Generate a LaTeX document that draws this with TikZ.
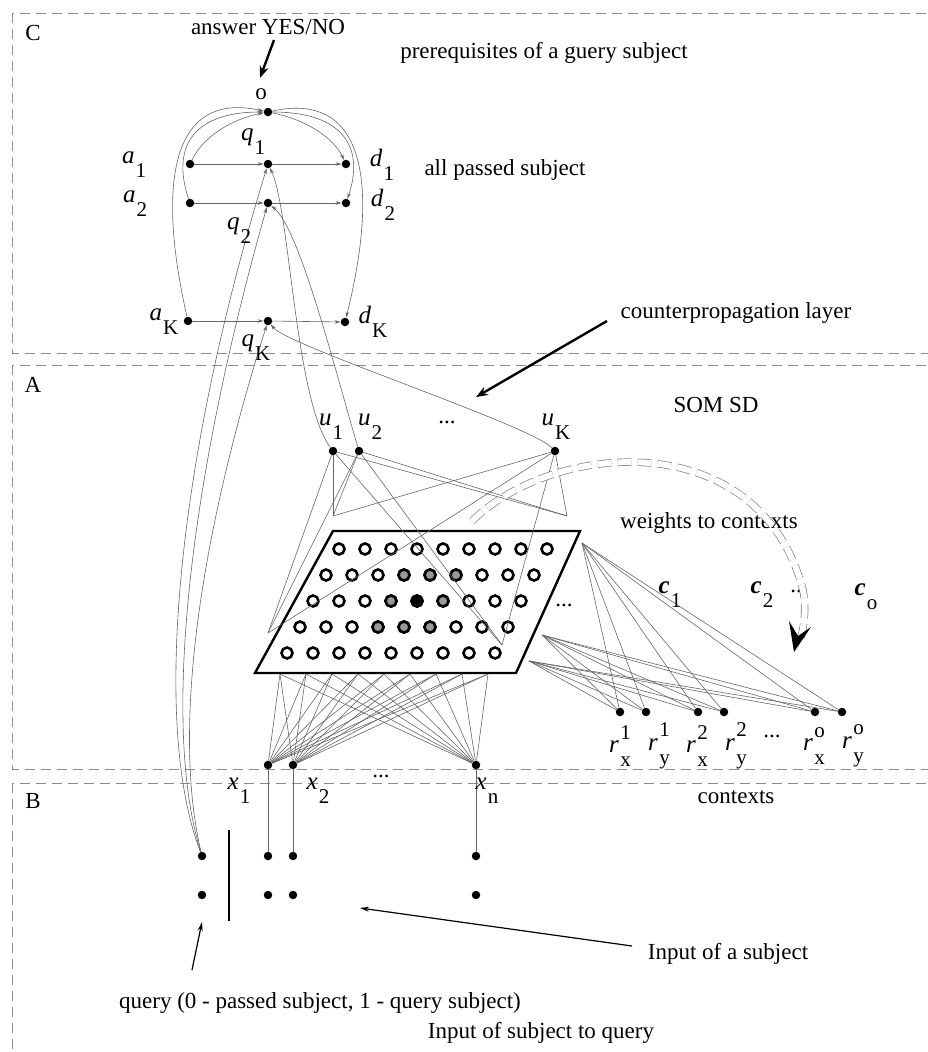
\documentclass[tikz,border=0pt]{standalone}
\usepackage{fontspec}
\setmainfont{Liberation Serif}
\usetikzlibrary{arrows.meta}

% italic symbol with an upright index set low beside it
\newcommand{\sym}[1]{{\fontsize{25}{28}\selectfont\textit{#1}}}
\newcommand{\idx}[1]{{\fontsize{21}{24}\selectfont #1}}
\newcommand{\sbl}[2]{\sym{#1}\kern1pt\raisebox{-0.6em}{\idx{#2}}}
% context symbol r with upper and lower index stacked
\newcommand{\rlb}[2]{\sym{r}\kern1.5pt\rlap{\raisebox{0.6em}{\idx{#1}}}\raisebox{-0.6em}{\idx{#2}}}

\begin{document}
\begin{tikzpicture}[x=1pt,y=-1pt,
  font=\fontsize{23}{27}\selectfont,
  dot/.style={circle,fill=black,inner sep=0pt,minimum size=8.5pt},
  neuron/.style={circle,draw=black,line width=2.6pt,inner sep=0pt,minimum size=11pt},
  hot/.style={neuron,fill=black!40},
  winner/.style={neuron,fill=black},
  link/.style={draw=black!60,line width=0.6pt},
  arr/.style={link,-{Stealth[length=6pt,width=3.6pt]}},
  region/.style={draw=black!45,line width=0.8pt,dash pattern=on 10pt off 6pt},
  pointer/.style={draw=black,line width=2.4pt,-{Stealth[length=12pt,width=9pt]}},
  thinpointer/.style={draw=black,line width=1.2pt,-{Stealth[length=9pt,width=5pt]}},
  txt/.style={inner sep=0pt}]

\useasboundingbox (0,0) rectangle (928,1052);
\clip (0,0) rectangle (928,1052);

% ---- the three regions
\draw[region] (12.5,13) rectangle (945,353);
\draw[region] (12.5,365) rectangle (945,769);
\draw[region] (12.5,783) rectangle (945,1075);
\node[txt] (labC) at (33,33) {C};
\node[txt] (labA) at (33,385) {A};
\node[txt] (labB) at (33,801) {B};

% ---- counterpropagation layer
\node[dot] (o)  at (268,112) {};
\node[dot] (a1) at (190,164) {};
\node[dot] (q1) at (268,164) {};
\node[dot] (d1) at (346,164) {};
\node[dot] (a2) at (190,203) {};
\node[dot] (q2) at (268,203) {};
\node[dot] (d2) at (346,203) {};
\node[dot] (aK) at (188,321) {};
\node[dot] (qK) at (268,321) {};
\node[dot] (dK) at (345,322) {};

% ---- SOM-SD units
\node[dot] (u1) at (333,451) {};
\node[dot] (u2) at (359,451) {};
\node[dot] (uK) at (555,451) {};

% ---- context units
\node[dot] (r1x) at (620,712) {};
\node[dot] (r1y) at (646,712) {};
\node[dot] (r2x) at (698,712) {};
\node[dot] (r2y) at (724,712) {};
\node[dot] (rox) at (815,712) {};
\node[dot] (roy) at (842,712) {};

% ---- input units
\node[dot] (x1) at (268,765) {};
\node[dot] (x2) at (293,765) {};
\node[dot] (xn) at (476,765) {};
\node[dot] (qin)  at (202,856) {};
\node[dot] (qinb) at (202,895) {};
\node[dot] (in1)  at (268,856) {};
\node[dot] (in1b) at (268,895) {};
\node[dot] (in2)  at (293,856) {};
\node[dot] (in2b) at (293,895) {};
\node[dot] (inn)  at (476,856) {};
\node[dot] (innb) at (476,895) {};

% ---- map sheet
\draw[line width=2.4pt,line join=miter] (333,531) -- (580,531) -- (516,673) -- (255,673) -- cycle;
\foreach \r in {0,...,4}
  \foreach \c in {0,...,8} {
    \pgfmathsetmacro{\gx}{339-13*\r+26*\c}
    \pgfmathsetmacro{\gy}{549+26*\r}
    \node[neuron] (n-\r-\c) at (\gx,\gy) {};
  }
\foreach \r/\c in {1/3,1/4,1/5,2/3,2/5,3/3,3/4,3/5}
  \node[hot] at (n-\r-\c) {};
\node[winner] at (n-2-4) {};

% anchor points of the weight fans
\coordinate (tl) at (333,516);
\coordinate (tr) at (567,516);
\coordinate (bl) at (268,633);
\coordinate (br) at (502,645);
\coordinate (c1p) at (582,543);
\coordinate (c2p) at (542,635);
\coordinate (c3p) at (529,661);
\foreach \k in {0,...,8}
  \coordinate (g\k) at ({280+26*\k},674);

% ---- fans
\foreach \u in {u1,u2,uK}
  \foreach \p in {tl,tr,bl,br}
    \draw[link] (\u) -- (\p);
\foreach \x in {x1,x2,xn}
  \foreach \k in {0,...,8}
    \draw[link] (\x) -- (g\k);
\foreach \p in {c1p,c2p,c3p}
  \foreach \r in {r1x,r1y,r2x,r2y,rox,roy}
    \draw[link] (\p) -- (\r);

\draw[link] (x1) -- (in1);
\draw[link] (x2) -- (in2);
\draw[link] (xn) -- (inn);

% ---- counterpropagation rows
\draw[arr] (a1) -- (q1);
\draw[arr] (q1) -- (d1);
\draw[arr] (a2) -- (q2);
\draw[arr] (q2) -- (d2);
\draw[arr] (aK) -- (qK);
\draw[arr] (qK) -- (dK);

\draw[arr] (a1) .. controls (202,139) and (228,120) .. (o);
\draw[arr] (a2) .. controls (172,150) and (190,112) .. (o);
\draw[arr] (aK) .. controls (158,190) and (168,90) .. (o);
\draw[arr] (o) .. controls (308,120) and (334,139) .. (d1);
\draw[arr] (o) .. controls (346,112) and (364,150) .. (d2);
\draw[arr] (o) .. controls (368,90) and (378,190) .. (dK);

% query bit to the q units
\draw[arr] (qin) .. controls (150,720) and (180,450) .. (q1);
\draw[arr] (qin) .. controls (160,720) and (192,470) .. (q2);
\draw[arr] (qin) .. controls (170,720) and (205,520) .. (qK);

% SOM units to the q units
\draw[arr] (u1) .. controls (295,400) and (290,210) .. (q1);
\draw[arr] (u2) .. controls (335,370) and (300,230) .. (q2);
\draw[arr] (uK) .. controls (530,425) and (288,346) .. (qK);

% ---- texts
\node[txt] (answer) at (268,27) {answer YES/NO};
\node[txt] (prereq) at (544,53) {prerequisites of a guery subject};
\node[txt] (passed) at (505,170) {all passed subject};
\node[txt] (cpl) at (736,313) {counterpropagation layer};
\node[txt] (som) at (716,405) {SOM SD};
\node[txt] (wctx) at (709,523) {weights to contexts};
\node[txt] (ctx) at (736,797) {contexts};
\node[txt] (insubj) at (728,954) {Input of a subject};
\node[txt] (qtext) at (320,1003) {query (0 - passed subject, 1 - query subject)};
\node[txt] (qinput) at (541,1033) {Input of subject to query};

\node[txt] at (261,94) {o};
\node[txt] at (253,142) {\sbl{q}{1}};
\node[txt] at (134,165) {\sbl{a}{1}};
\node[txt] at (382,165) {\sbl{d}{1}};
\node[txt] at (135,204) {\sbl{a}{2}};
\node[txt] at (383,205) {\sbl{d}{2}};
\node[txt] at (239,231) {\sbl{q}{2}};
\node[txt] at (164,322) {\sbl{a}{K}};
\node[txt] at (373,322) {\sbl{d}{K}};
\node[txt] at (256,348) {\sbl{q}{K}};

\node[txt] at (331,427) {\sbl{u}{1}};
\node[txt] at (370,427) {\sbl{u}{2}};
\node[txt] at (447,422) {...};
\node[txt] at (556,427) {\sbl{u}{K}};

\node[txt] at (564,605) {...};
\node[txt] at (670,595) {\sbl{\textbf{c}}{1}};
\node[txt] at (762,595) {\sbl{\textbf{c}}{2}};
\node[txt] at (799,591) {...};
\node[txt] at (866,597) {\sbl{\textbf{c}}{o}};

\node[txt] at (620,746) {\rlb{1}{x}};
\node[txt] at (659,746) {\rlb{1}{y}};
\node[txt] at (697,746) {\rlb{2}{x}};
\node[txt] at (736,746) {\rlb{2}{y}};
\node[txt] at (772,736) {...};
\node[txt] at (814,746) {\rlb{o}{x}};
\node[txt] at (853,746) {\rlb{o}{y}};

\node[txt] at (239,791) {\sbl{x}{1}};
\node[txt] at (318,791) {\sbl{x}{2}};
\node[txt] at (381,776) {...};
\node[txt] at (487,791) {\sbl{x}{n}};

% ---- pointers
\coordinate (ansTail) at (274,40);
\coordinate (ansHead) at (260,78);
\draw[pointer] (ansTail) -- (ansHead);
\coordinate (cplTail) at (607,321);
\coordinate (cplHead) at (476,397);
\draw[pointer] (cplTail) -- (cplHead);
\coordinate (qTail) at (192,970);
\coordinate (qHead) at (202,922);
\draw[thinpointer] (qTail) -- (qHead);
\coordinate (inTail) at (632,946);
\coordinate (inHead) at (360,908);
\draw[thinpointer] (inTail) -- (inHead);

% separator between query bit and subject inputs
\coordinate (barTop) at (229,830);
\coordinate (barBot) at (229,921);
\draw[line width=1.5pt] (barTop) -- (barBot);

% ---- weights to contexts: double dashed arc
\draw[draw=black!50,line width=0.7pt,double=white,double distance=6pt,
      dash pattern=on 14pt off 6pt]
  (472,521) .. controls (555,440) and (760,425) .. (803,590)
            .. controls (806,605) and (805,625) .. (800,640);
\fill (794,652) -- (789,621) -- (798,636) -- (811,627) -- cycle;

\end{tikzpicture}
\end{document}
